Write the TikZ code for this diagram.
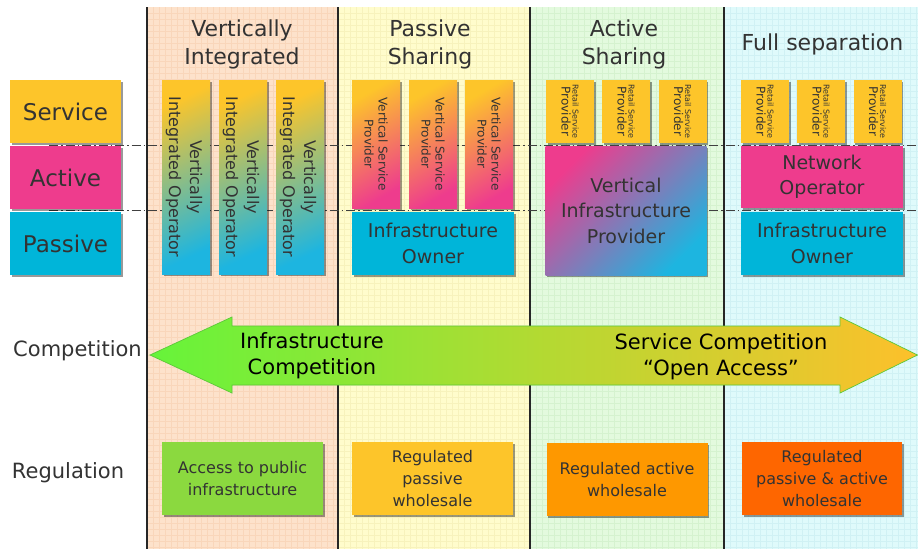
\documentclass[tikz,border=0pt]{standalone}
\usepackage{fontspec}
\setmainfont{DejaVu Sans}
\usetikzlibrary{shadows}
\definecolor{txt}{HTML}{333333}
\definecolor{cyel}{HTML}{FDC52A}
\definecolor{cpink}{HTML}{EE3C8D}
\definecolor{ccyan}{HTML}{00B5D9}
\definecolor{ccyan2}{HTML}{1DB5E0}
\definecolor{cgreen}{HTML}{8BD93F}
\definecolor{corange}{HTML}{FE9800}
\definecolor{cred}{HTML}{FE6600}
\definecolor{bgA}{HTML}{FDE2CB}
\definecolor{gridA}{HTML}{F9D6BA}
\definecolor{bgB}{HTML}{FFFCCC}
\definecolor{gridB}{HTML}{F7F2BC}
\definecolor{bgC}{HTML}{E3FADE}
\definecolor{gridC}{HTML}{D5F2CF}
\definecolor{bgD}{HTML}{DFFAFB}
\definecolor{gridD}{HTML}{D0F1F4}
\definecolor{arA}{HTML}{66F43A}
\definecolor{arB}{HTML}{CDE02E}
\definecolor{arC}{HTML}{FDC02B}
\definecolor{arEdge}{HTML}{5CC83A}
\tikzset{
  box/.style={draw=none, inner sep=0pt, align=center, text=txt,
    drop shadow={shadow xshift=1.6pt, shadow yshift=-1.6pt, fill=black, opacity=0.4}},
  sidelab/.style={box, minimum width=111pt, minimum height=63pt, font=\fontsize{23}{27}\selectfont},
  head/.style={align=center, text=txt, inner sep=0pt, font=\fontsize{22}{28}\selectfont},
  rowlab/.style={align=center, text=txt, inner sep=0pt, font=\fontsize{21}{25}\selectfont},
  vio/.style={box, minimum width=48pt, minimum height=194pt, top color=cyel, bottom color=ccyan2, shading angle=25},
  viotext/.style={rotate=-90, align=center, text=txt, inner sep=0pt, font=\fontsize{16}{21}\selectfont},
  vsp/.style={box, minimum width=48pt, minimum height=128pt, top color=cyel, bottom color=cpink, shading angle=30},
  vsptext/.style={rotate=-90, align=center, text=txt, inner sep=0pt, font=\fontsize{12}{14}\selectfont},
  rsp/.style={box, minimum width=48pt, minimum height=63pt, fill=cyel},
  rsptext/.style={rotate=-90, align=center, text=txt, inner sep=0pt},
  wide/.style={box, minimum width=162pt, font=\fontsize{19}{25.5}\selectfont},
  reg/.style={box, minimum width=161pt, minimum height=73pt, font=\fontsize{16}{22}\selectfont},
  sep/.style={line width=1.4pt, black!85},
  layer/.style={black!75, line width=0.8pt, dash pattern=on 9pt off 3pt on 1.5pt off 3pt},
  arrtext/.style={align=center, text=black, inner sep=0pt, font=\fontsize{21}{26}\selectfont}
}
\begin{document}
\begin{tikzpicture}[x=1pt,y=-1pt]
\useasboundingbox (0,0) rectangle (918,549);
\fill[white] (0,0) rectangle (918,549);
% column backgrounds
\fill[bgA] (147,7) rectangle (338,549);
\fill[bgB] (338,7) rectangle (530,549);
\fill[bgC] (530,7) rectangle (724,549);
\fill[bgD] (724,7) rectangle (918,549);
\begin{scope}[line width=0.4pt]
\foreach \x in {153,159,...,333} \draw[gridA] (\x,7) -- (\x,549);
\foreach \y in {13,19,...,547} \draw[gridA] (147,\y) -- (338,\y);
\foreach \x in {344,350,...,525} \draw[gridB] (\x,7) -- (\x,549);
\foreach \y in {13,19,...,547} \draw[gridB] (338,\y) -- (530,\y);
\foreach \x in {536,542,...,719} \draw[gridC] (\x,7) -- (\x,549);
\foreach \y in {13,19,...,547} \draw[gridC] (530,\y) -- (724,\y);
\foreach \x in {730,736,...,916} \draw[gridD] (\x,7) -- (\x,549);
\foreach \y in {13,19,...,547} \draw[gridD] (724,\y) -- (918,\y);
\end{scope}
\draw[sep] (147,7) -- (147,549);
\draw[sep] (338,7) -- (338,549);
\draw[sep] (530,7) -- (530,549);
\draw[sep] (724,7) -- (724,549);
% layer lines
\draw[layer] (49,145) -- (918,145);
\draw[layer] (49,210) -- (918,210);
% side labels
\node[sidelab, fill=cyel] (service) at (65.5,111.5) {Service};
\node[sidelab, fill=cpink] (active) at (65.5,177.5) {Active};
\node[sidelab, fill=ccyan] (passive) at (65.5,243.5) {Passive};
% headers
\node[head] (h1) at (242,44.5) {Vertically\\Integrated};
\node[head] (h2) at (430,44.5) {Passive\\Sharing};
\node[head] (h3) at (624,44.5) {Active\\Sharing};
\node[head] (h4) at (822.5,44) {Full separation};
% column 1
\node[vio] (v1) at (186,177) {};
\node[vio] (v2) at (243,177) {};
\node[vio] (v3) at (300,177) {};
\node[viotext] (v1t) at ([xshift=-2pt]v1.center) {Vertically\\Integrated Operator};
\node[viotext] (v2t) at ([xshift=-2pt]v2.center) {Vertically\\Integrated Operator};
\node[viotext] (v3t) at ([xshift=-2pt]v3.center) {Vertically\\Integrated Operator};
% column 2
\node[vsp] (s1) at (376,144) {};
\node[vsp] (s2) at (433,144) {};
\node[vsp] (s3) at (489,144) {};
\node[vsptext] (s1t) at (s1.center) {Vertical Service\\Provider};
\node[vsptext] (s2t) at (s2.center) {Vertical Service\\Provider};
\node[vsptext] (s3t) at (s3.center) {Vertical Service\\Provider};
\node[wide, fill=ccyan, minimum height=63pt] (io2) at (433,243.5) {Infrastructure\\Owner};
% column 3
\node[rsp] (r31) at (570,111.5) {};
\node[rsp] (r32) at (626,111.5) {};
\node[rsp] (r33) at (682.5,111.5) {};
\node[rsptext] (r31t) at (r31.center) {{\fontsize{8}{9}\selectfont Retail Service}\\[-1pt]{\fontsize{12}{13}\selectfont Provider}};
\node[rsptext] (r32t) at (r32.center) {{\fontsize{8}{9}\selectfont Retail Service}\\[-1pt]{\fontsize{12}{13}\selectfont Provider}};
\node[rsptext] (r33t) at (r33.center) {{\fontsize{8}{9}\selectfont Retail Service}\\[-1pt]{\fontsize{12}{13}\selectfont Provider}};
\node[wide, minimum width=161pt, minimum height=129pt, top color=cpink, bottom color=ccyan2, shading angle=45] (vip) at (626,210.5) {Vertical\\Infrastructure\\Provider};
% column 4
\node[rsp] (r41) at (765,111.5) {};
\node[rsp] (r42) at (821,111.5) {};
\node[rsp] (r43) at (877.5,111.5) {};
\node[rsptext] (r41t) at (r41.center) {{\fontsize{8}{9}\selectfont Retail Service}\\[-1pt]{\fontsize{12}{13}\selectfont Provider}};
\node[rsptext] (r42t) at (r42.center) {{\fontsize{8}{9}\selectfont Retail Service}\\[-1pt]{\fontsize{12}{13}\selectfont Provider}};
\node[rsptext] (r43t) at (r43.center) {{\fontsize{8}{9}\selectfont Retail Service}\\[-1pt]{\fontsize{12}{13}\selectfont Provider}};
\node[wide, fill=cpink, minimum height=62pt] (no) at (822,177) {Network\\Operator};
\node[wide, fill=ccyan, minimum height=63pt] (io4) at (822,243.5) {Infrastructure\\Owner};
% competition arrow
\path[draw=arEdge, line width=0.7pt, left color=arA, middle color=arB, right color=arC]
  (150,355) -- (232,317) -- (232,326) -- (840,326) -- (840,317) -- (917.5,355)
  -- (840,393) -- (840,385) -- (232,385) -- (232,393) -- cycle;
\node[rowlab] (comp) at (77.5,351) {Competition};
\node[arrtext] (ic) at (312,355.5) {Infrastructure\\Competition};
\node[arrtext] (sc) at (721,356.5) {Service Competition\\“Open Access”};
% regulation
\node[rowlab] (regl) at (68,473) {Regulation};
\node[reg, fill=cgreen] (g1) at (242.5,478.5) {Access to public\\infrastructure};
\node[reg, fill=cyel] (g2) at (432.5,478.5) {Regulated\\passive\\wholesale};
\node[reg, fill=corange] (g3) at (627,479.5) {Regulated active\\wholesale};
\node[reg, fill=cred, minimum width=160pt] (g4) at (822,478.5) {Regulated\\passive \& active\\wholesale};
\end{tikzpicture}
\end{document}
